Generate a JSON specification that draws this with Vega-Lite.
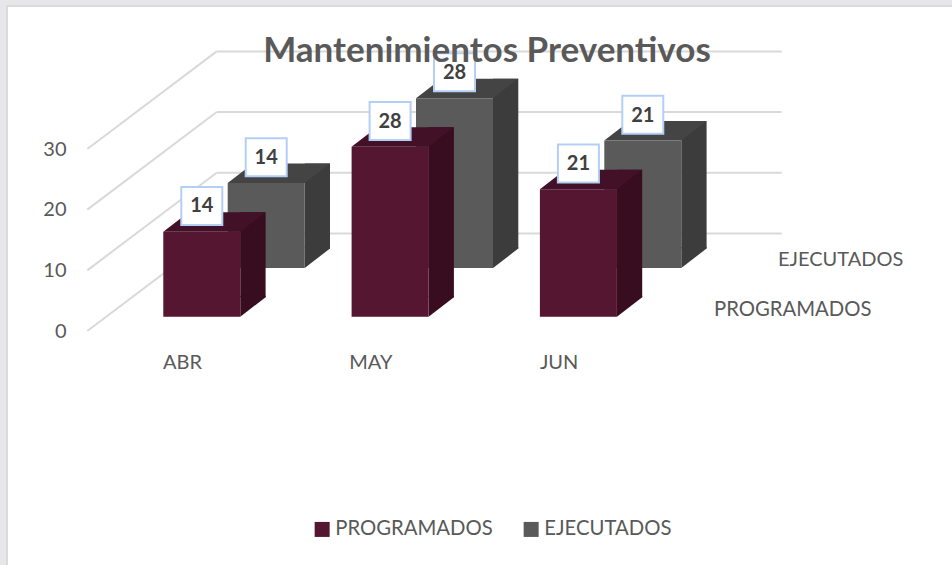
{"$schema":"https://vega.github.io/schema/vega-lite/v6.json","width":950,"height":565,"autosize":{"type":"none"},"padding":{"left":7,"top":6,"right":0,"bottom":0},"background":"#e7e6e8","config":{"font":"Lato","view":{"fill":"#ffffff","stroke":"#dadada","strokeWidth":2}},"title":{"text":"Mantenimientos Preventivos","font":"Lato","fontSize":35,"fontWeight":"bold","color":"#595959","anchor":"middle","offset":-63,"dx":5,"zindex":1},"data":{"values":[{"month":"ABR","series":"PROGRAMADOS","value":14},{"month":"MAY","series":"PROGRAMADOS","value":28},{"month":"JUN","series":"PROGRAMADOS","value":21},{"month":"ABR","series":"EJECUTADOS","value":14},{"month":"MAY","series":"EJECUTADOS","value":28},{"month":"JUN","series":"EJECUTADOS","value":21}]},"encoding":{"x":{"field":"month","type":"nominal","sort":null,"title":null,"scale":{"domain":["ABR","MAY","JUN"],"range":[100.65,665.55],"paddingInner":0,"paddingOuter":0},"axis":{"orient":"bottom","offset":-231,"domain":false,"ticks":false,"labelAngle":0,"labelOffset":-19.3,"labelPadding":12,"labelFontSize":20,"labelColor":"#595959","labelFont":"Lato","grid":false}},"y":{"field":"value","type":"quantitative","title":null,"scale":{"domain":[0,30],"range":[325,143],"nice":false},"axis":{"orient":"left","offset":-80,"values":[0,10,20,30],"domain":false,"ticks":false,"grid":false,"labelPadding":21,"labelFontSize":20,"labelColor":"#595959","labelFont":"Lato"}}},"layer":[{"data":{"values":[{"tick":0},{"tick":10},{"tick":20},{"tick":30}]},"encoding":{"x":{"datum":"ABR"},"y":{"field":"tick","type":"quantitative"},"y2":{"field":"tick"}},"layer":[{"mark":{"type":"rule","color":"#d9d9d9","strokeWidth":2,"xOffset":-114.5,"x2Offset":14.9,"y2Offset":-97.6},"encoding":{"x2":{"datum":"ABR"}}},{"mark":{"type":"rule","color":"#d9d9d9","strokeWidth":2,"xOffset":14.9,"x2Offset":203.3,"yOffset":-97.6,"y2Offset":-97.6},"encoding":{"x2":{"datum":"JUN"}}}]},{"transform":[{"filter":"datum.series === 'EJECUTADOS'"}],"layer":[{"mark":{"type":"bar","color":"#3c3c3c","width":25.3,"xOffset":115.55,"yOffset":-82.5,"y2Offset":-82.5},"encoding":{"y2":{"datum":0}}},{"mark":{"type":"point","shape":"M38.5,0L63.8,-19.5L63.8,-21L38.5,-21Z","filled":true,"fill":"#3c3c3c","opacity":1,"size":4,"xOffset":64.4,"yOffset":-63},"encoding":{"y":{"datum":0}}},{"mark":{"type":"point","shape":"M-38.5,0L38.5,0L63.8,-19.5L-13.2,-19.5Z","filled":true,"fill":"#444444","opacity":1,"size":4,"xOffset":64.4,"yOffset":-63}},{"mark":{"type":"bar","width":77,"xOffset":64.4,"yOffset":-63,"y2Offset":-63},"encoding":{"y2":{"datum":0},"color":{"field":"series","type":"nominal","title":null,"scale":{"domain":["PROGRAMADOS","EJECUTADOS"],"range":["#551632","#5a5a5a"]},"legend":{"orient":"none","legendX":305,"legendY":513,"direction":"horizontal","symbolType":"square","symbolSize":225,"symbolStrokeWidth":0,"symbolOpacity":1,"labelFontSize":20.3,"labelColor":"#595959","labelFont":"Lato","labelOffset":3,"columnPadding":28,"title":null}}}}]},{"transform":[{"filter":"datum.series === 'PROGRAMADOS'"}],"layer":[{"mark":{"type":"bar","color":"#370d1f","width":25.3,"xOffset":51.15,"yOffset":-33.8,"y2Offset":-33.8},"encoding":{"y2":{"datum":0}}},{"mark":{"type":"point","shape":"M38.5,0L63.8,-19.5L63.8,-21L38.5,-21Z","filled":true,"fill":"#370d1f","opacity":1,"size":4,"yOffset":-14.3},"encoding":{"y":{"datum":0}}},{"mark":{"type":"point","shape":"M-38.5,0L38.5,0L63.8,-19.5L-13.2,-19.5Z","filled":true,"fill":"#421127","opacity":1,"size":4,"yOffset":-14.3}},{"mark":{"type":"bar","width":77,"yOffset":-14.3,"y2Offset":-14.3},"encoding":{"y2":{"datum":0},"color":{"field":"series","type":"nominal"}}}]},{"transform":[{"filter":"datum.series === 'EJECUTADOS'"}],"layer":[{"mark":{"type":"point","shape":"M-20.5,-19L20.5,-19L20.5,19L-20.5,19Z","filled":true,"fill":"#ffffff","stroke":"#b4cff5","strokeWidth":2,"opacity":1,"size":4,"xOffset":64.4,"yOffset":-88.8}},{"mark":{"type":"text","font":"Lato","fontSize":20,"fontWeight":"bold","color":"#404040","baseline":"middle","xOffset":64.4,"yOffset":-87.8},"encoding":{"text":{"field":"value","type":"quantitative"}}}]},{"transform":[{"filter":"datum.series === 'PROGRAMADOS'"}],"layer":[{"mark":{"type":"point","shape":"M-20.5,-19L20.5,-19L20.5,19L-20.5,19Z","filled":true,"fill":"#ffffff","stroke":"#b4cff5","strokeWidth":2,"opacity":1,"size":4,"yOffset":-40.1}},{"mark":{"type":"text","font":"Lato","fontSize":20,"fontWeight":"bold","color":"#404040","baseline":"middle","yOffset":-39.6},"encoding":{"text":{"field":"value","type":"quantitative"}}}]},{"transform":[{"filter":"datum.month === 'JUN' && datum.series === 'EJECUTADOS'"}],"mark":{"type":"text","font":"Lato","fontSize":20,"color":"#595959","align":"left","baseline":"middle","xOffset":199.6,"yOffset":-71},"encoding":{"y":{"datum":0},"text":{"field":"series"}}},{"transform":[{"filter":"datum.month === 'JUN' && datum.series === 'PROGRAMADOS'"}],"mark":{"type":"text","font":"Lato","fontSize":20.3,"color":"#595959","align":"left","baseline":"middle","xOffset":135.6,"yOffset":-21},"encoding":{"y":{"datum":0},"text":{"field":"series"}}}]}
